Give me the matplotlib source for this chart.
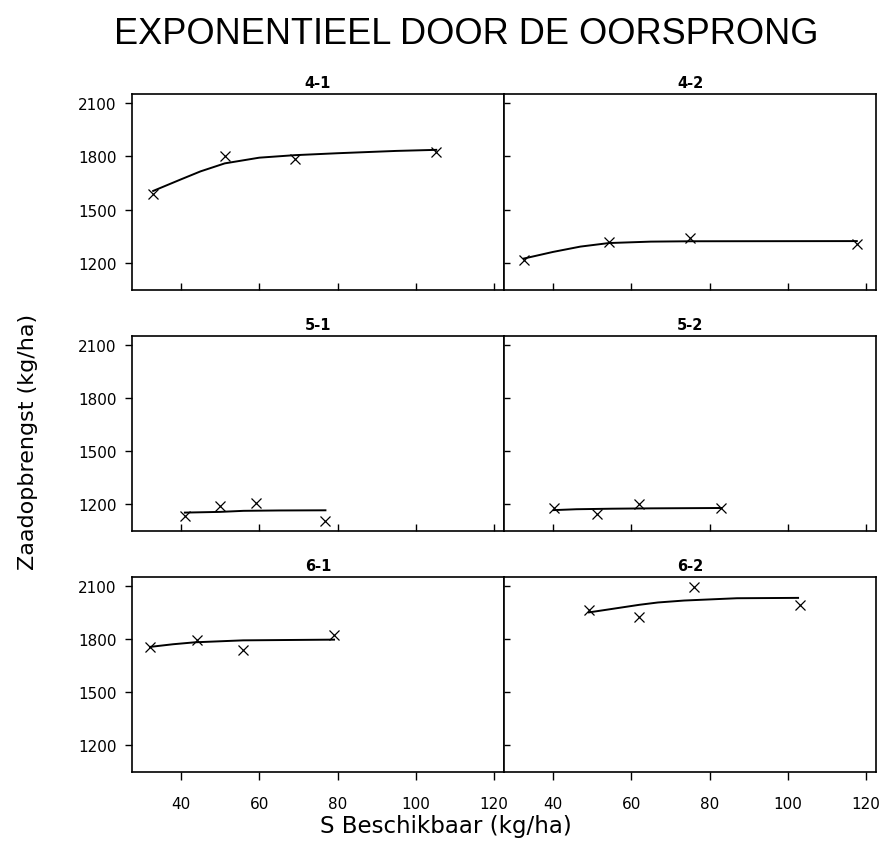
import matplotlib
matplotlib.use("Agg")
import matplotlib.pyplot as plt

plt.rcParams['font.family'] = ['DejaVu Sans']

# gemeten punten (S beschikbaar, zaadopbrengst) per proef
x_41 = [32.9, 51.2, 69.0, 105.2]
y_41 = [1586, 1800, 1783, 1824]
x_42 = [32.6, 54.3, 75.0, 117.6]
y_42 = [1217, 1318, 1343, 1305]
x_51 = [41.0, 49.9, 59.1, 76.9]
y_51 = [1134, 1187, 1206, 1106]
x_52 = [40.2, 51.3, 62.1, 83.0]
y_52 = [1176, 1144, 1200, 1178]
x_61 = [32.1, 44.0, 55.9, 79.1]
y_61 = [1755, 1796, 1740, 1824]
x_62 = [49.2, 62.1, 75.9, 103.0]
y_62 = [1965, 1924, 2096, 1993]

# aangepaste curve
cx_41 = [32.9, 40, 45, 51.2, 60, 69, 80, 95, 105.2]
cy_41 = [1605, 1670, 1715, 1760, 1792, 1806, 1817, 1830, 1836]
cx_42 = [32.6, 40, 47, 54.3, 65, 75, 117.6]
cy_42 = [1225, 1262, 1292, 1312, 1320, 1322, 1323]
cx_51 = [41.0, 50, 56, 65, 76.9]
cy_51 = [1152, 1156, 1162, 1164, 1165]
cx_52 = [40.2, 46, 55, 65, 83.0]
cy_52 = [1166, 1171, 1174, 1176, 1178]
cx_61 = [32.1, 38.0, 43.6, 55.9, 79.1]
cy_61 = [1755, 1770, 1781, 1792, 1796]
cx_62 = [49.2, 62.1, 66.8, 73.5, 87.0, 102.6]
cy_62 = [1950, 1993, 2006, 2017, 2030, 2032]

titles = ["4-1", "4-2", "5-1", "5-2", "6-1", "6-2"]
punten = [(x_41, y_41), (x_42, y_42), (x_51, y_51), (x_52, y_52), (x_61, y_61), (x_62, y_62)]
curves = [(cx_41, cy_41), (cx_42, cy_42), (cx_51, cy_51), (cx_52, cy_52), (cx_61, cy_61), (cx_62, cy_62)]

yticks = [1200, 1500, 1800, 2100]
xticks = [40, 60, 80, 100, 120]

fig = plt.figure(figsize=(8.85, 8.45), dpi=100)

W, H = 885, 845
lefts = [132, 504]
rights = [504, 876]
tops = [95, 337, 578]
bottoms = [291, 532, 773]

for i in range(6):
    r, c = divmod(i, 2)
    ax = fig.add_axes([lefts[c] / W, 1 - bottoms[r] / H,
                       (rights[c] - lefts[c]) / W, (bottoms[r] - tops[r]) / H])
    px, py = punten[i]
    cx, cy = curves[i]
    ax.plot(cx, cy, color='black', lw=1.4)
    ax.plot(px, py, 'x', color='black', ms=7, mew=0.9)
    ax.set_xlim(27.5, 122.5)
    ax.set_ylim(1048, 2150)
    ax.set_xticks(xticks)
    ax.set_yticks(yticks)
    ax.set_title(titles[i], fontsize=10.5, fontweight='bold', pad=5)
    for s in ax.spines.values():
        s.set_linewidth(1.2)

    if c == 0:
        ax.tick_params(axis='y', direction='out', length=5, width=1, labelsize=11, pad=6)
    else:
        ax.tick_params(axis='y', direction='in', length=4, width=1, labelleft=False)
    if r == 2:
        ax.tick_params(axis='x', direction='out', length=6, width=1, labelsize=11, pad=11)
    else:
        ax.tick_params(axis='x', direction='in', length=5, width=1, labelbottom=False)

fig.text(0.527, 0.9586, "EXPONENTIEEL DOOR DE OORSPRONG", fontsize=26,
         family=['Liberation Sans', 'DejaVu Sans'], ha='center', va='center')
fig.text(0.032, 0.477, "Zaadopbrengst (kg/ha)", fontsize=16, rotation=90,
         ha='center', va='center')
fig.text(0.504, 0.022, "S Beschikbaar (kg/ha)", fontsize=16.5,
         ha='center', va='center')

fig.savefig("out.png", dpi=100)
